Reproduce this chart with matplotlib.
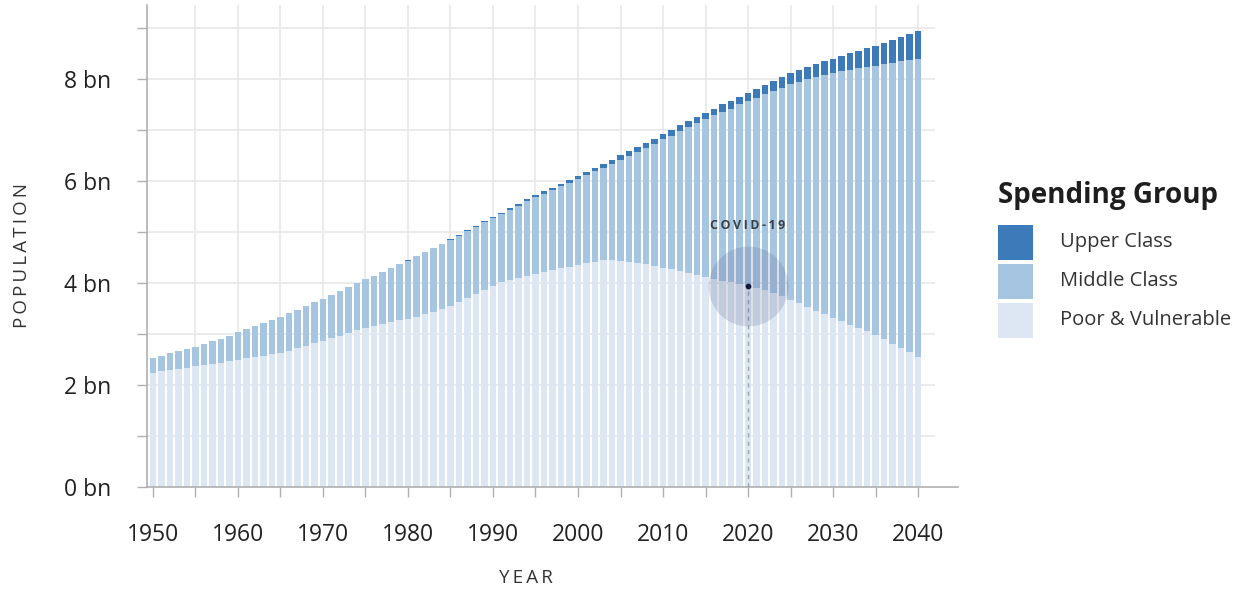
import numpy as np
import matplotlib.pyplot as plt
from matplotlib.patches import Rectangle

plt.rcParams['font.family'] = ['Open Sans', 'DejaVu Sans']

years = list(range(1950, 2041))

# population by spending group, billions
poor = [2.24, 2.27, 2.29, 2.32, 2.34, 2.37, 2.39, 2.42, 2.44, 2.47,
        2.49, 2.52, 2.54, 2.57, 2.60, 2.63, 2.67, 2.72, 2.77, 2.82,
        2.87, 2.92, 2.97, 3.02, 3.07, 3.11, 3.15, 3.19, 3.23, 3.27,
        3.30, 3.34, 3.39, 3.44, 3.49, 3.55, 3.62, 3.70, 3.78, 3.87,
        3.95, 4.01, 4.06, 4.10, 4.14, 4.18, 4.22, 4.26, 4.29, 4.32,
        4.35, 4.39, 4.42, 4.45, 4.45, 4.43, 4.41, 4.39, 4.37, 4.34,
        4.30, 4.27, 4.23, 4.19, 4.15, 4.11, 4.07, 4.04, 4.01, 3.98,
        3.95, 3.91, 3.86, 3.80, 3.74, 3.67, 3.60, 3.53, 3.46, 3.39,
        3.31, 3.25, 3.18, 3.12, 3.05, 2.98, 2.90, 2.81, 2.72, 2.64,
        2.55]
middle = [0.29, 0.30, 0.33, 0.34, 0.37, 0.38, 0.41, 0.44, 0.47, 0.50,
          0.54, 0.57, 0.61, 0.64, 0.67, 0.71, 0.74, 0.76, 0.78, 0.80,
          0.82, 0.85, 0.87, 0.90, 0.92, 0.96, 0.99, 1.03, 1.07, 1.10,
          1.14, 1.18, 1.21, 1.24, 1.27, 1.29, 1.31, 1.31, 1.32, 1.32,
          1.32, 1.34, 1.38, 1.41, 1.46, 1.50, 1.53, 1.56, 1.61, 1.64,
          1.68, 1.72, 1.77, 1.81, 1.89, 1.99, 2.08, 2.18, 2.28, 2.39,
          2.52, 2.62, 2.75, 2.86, 2.99, 3.10, 3.22, 3.32, 3.41, 3.52,
          3.61, 3.72, 3.84, 3.97, 4.09, 4.23, 4.35, 4.47, 4.58, 4.69,
          4.81, 4.90, 5.00, 5.09, 5.19, 5.28, 5.39, 5.51, 5.63, 5.74,
          5.85]
upper = [0.00, 0.00, 0.00, 0.00, 0.00, 0.00, 0.00, 0.00, 0.00, 0.00,
         0.00, 0.00, 0.00, 0.00, 0.00, 0.00, 0.00, 0.00, 0.00, 0.00,
         0.00, 0.00, 0.00, 0.00, 0.00, 0.00, 0.00, 0.00, 0.00, 0.00,
         0.01, 0.01, 0.01, 0.01, 0.01, 0.02, 0.02, 0.02, 0.02, 0.02,
         0.03, 0.03, 0.03, 0.04, 0.04, 0.04, 0.05, 0.05, 0.05, 0.06,
         0.07, 0.07, 0.07, 0.08, 0.08, 0.08, 0.09, 0.09, 0.10, 0.10,
         0.10, 0.11, 0.11, 0.12, 0.12, 0.13, 0.13, 0.14, 0.15, 0.15,
         0.16, 0.17, 0.18, 0.19, 0.21, 0.22, 0.23, 0.24, 0.25, 0.27,
         0.28, 0.30, 0.32, 0.34, 0.36, 0.38, 0.41, 0.44, 0.47, 0.50,
         0.54]

groups = ['Upper Class', 'Middle Class', 'Poor & Vulnerable']
colors = ['#3c7aba', '#a5c5e0', '#dde7f3']

covid_year = 2020
y_ticks = list(range(0, 10))
y_labels = [f'{v} bn' if v % 2 == 0 else '' for v in y_ticks]
x_ticks = list(range(1950, 2041, 5))
x_labels = [str(t) if t % 10 == 0 else '' for t in x_ticks]


def spaced(s):
    # tracked-out caps for the small labels
    return '\u2009'.join(s)


fig = plt.figure(figsize=(12.47, 5.90), dpi=100)
ax = fig.add_axes([147 / 1247, 103 / 590, 811 / 1247, 482 / 590])

poor_a = np.array(poor)
mid_a = np.array(middle)
up_a = np.array(upper)

ax.bar(years, poor_a, width=0.8, color=colors[2], zorder=2)
ax.bar(years, mid_a, width=0.8, bottom=poor_a, color=colors[1], zorder=2)
ax.bar(years, up_a, width=0.8, bottom=poor_a + mid_a, color=colors[0], zorder=2)

ax.set_xlim(1949.3, 2044.7)
ax.set_ylim(0, 9.45)

# light grid behind the bars
for v in y_ticks[1:]:
    ax.hlines(v, 1949.3, 2042, color='#e8e8e8', lw=1.2, zorder=0)
for t in x_ticks[1:]:
    ax.vlines(t, 0, 9.45, color='#e8e8e8', lw=1.2, zorder=0)

for s in ['top', 'right']:
    ax.spines[s].set_visible(False)
for s in ['left', 'bottom']:
    ax.spines[s].set_color('#b0b0b0')
    ax.spines[s].set_linewidth(1.2)

ax.set_yticks(y_ticks)
ax.set_yticklabels(y_labels)
ax.set_xticks(x_ticks)
ax.set_xticklabels(x_labels)
ax.tick_params(axis='y', length=7, width=1, color='#b0b0b0', pad=19,
               labelsize=16.5, labelcolor='#222222')
ax.tick_params(axis='x', length=7, width=1, color='#b0b0b0', pad=19,
               labelsize=16.5, labelcolor='#222222')

fig.text(526 / 1247, 1 - 578 / 590, spaced('YEAR'), ha='center',
         va='center', fontsize=13.5, color='#333333')
fig.text(22 / 1247, 1 - 256 / 590, spaced('POPULATION'), ha='center',
         va='center', rotation=90, fontsize=13.5, color='#333333')

# COVID-19 marker on the poor / middle boundary
ci = years.index(covid_year)
cy = poor[ci]
ax.plot([covid_year, covid_year], [0, cy], ls=(0, (3, 3)), color='#9aa3b5',
        lw=1, zorder=3)
ax.scatter([covid_year], [cy], s=3300, color='#5d6b94', alpha=0.22,
           lw=0, zorder=4)
ax.scatter([covid_year], [cy], s=10, color='#101a3c', zorder=5)
ax.text(covid_year, cy + 1.18, spaced('COVID-19'), ha='center', va='center',
        fontsize=9, fontweight='bold', color='#3a3f47')

# legend
fig.text(998 / 1247, 1 - 196 / 590, 'Spending Group', ha='left', va='center',
         fontsize=20, fontweight='bold', color='#1e1e1e')
sw_tops = [225, 264, 303]
for name, col, top in zip(groups, colors, sw_tops):
    fig.add_artist(Rectangle((998 / 1247, 1 - (top + 35) / 590), 35 / 1247,
                             35 / 590, transform=fig.transFigure,
                             facecolor=col, edgecolor='none'))
    fig.text(1060 / 1247, 1 - (top + 17) / 590, name, ha='left', va='center',
             fontsize=14.5, color='#333333')

fig.savefig('out.png', dpi=100)
